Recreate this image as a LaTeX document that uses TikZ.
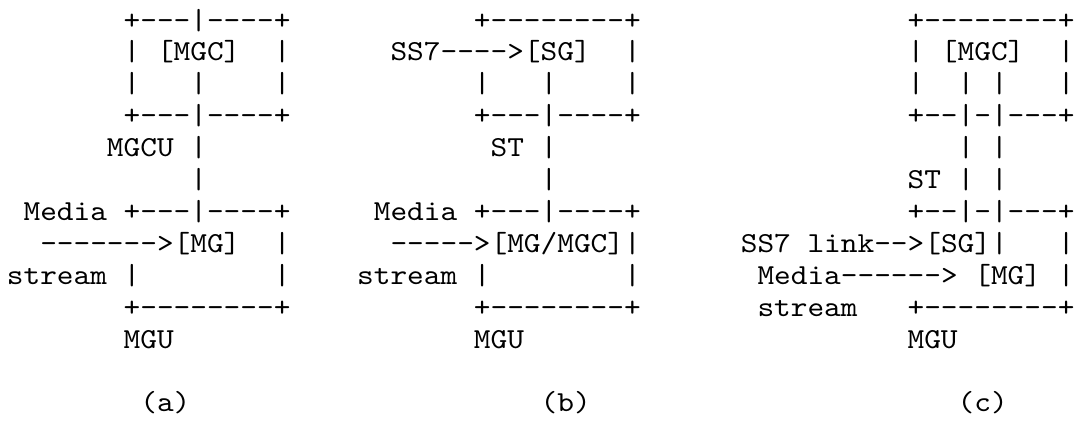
\documentclass[tikz,border=0pt]{standalone}
\usepackage{fontspec}
\setmonofont{lmmono10-regular.otf}[FakeStretch=1.0956]
\begin{document}
\begin{tikzpicture}[x=8.34pt,y=-15.95pt,
  txt/.style={font=\ttfamily\fontsize{14.5}{16}\selectfont,anchor=base west,inner sep=0pt}]
\useasboundingbox (-3.25pt,14.55pt) rectangle (533.75pt,-195.95pt);
% (a)
\node[txt] (atop) at (7,0){+---|----+};
\node[txt] (al1) at (7,1){|};\node[txt] (mgca) at (9,1){[MGC]};\node[txt] (ar1) at (16,1){|};
\node[txt] (al2) at (7,2){|};\node[txt] (am2) at (11,2){|};\node[txt] (ar2) at (16,2){|};
\node[txt] (amid) at (7,3){+---|----+};
\node[txt] (mgcu) at (6,4){MGCU};\node[txt] (am4) at (11,4){|};
\node[txt] (am5) at (11,5){|};
\node[txt] (mediaa) at (1,6){Media};\node[txt] (amgtop) at (7,6){+---|----+};
\node[txt] (mga) at (2,7){------->[MG]};\node[txt] (ar7) at (16,7){|};
\node[txt] (streama) at (0,8){stream};\node[txt] (al8) at (7,8){|};\node[txt] (ar8) at (16,8){|};
\node[txt] (abot) at (7,9){+--------+};
\node[txt] (mgua) at (7,10){MGU};
\node[txt] (capa) at (8,12){(a)};
% (b)
\node[txt] (btop) at (28,0){+--------+};
\node[txt] (sgb) at (23,1){SS7---->[SG]};\node[txt] (br1) at (37,1){|};
\node[txt] (bl2) at (28,2){|};\node[txt] (bm2) at (32,2){|};\node[txt] (br2) at (37,2){|};
\node[txt] (bmid) at (28,3){+---|----+};
\node[txt] (stb) at (29,4){ST};\node[txt] (bm4) at (32,4){|};
\node[txt] (bm5) at (32,5){|};
\node[txt] (mediab) at (22,6){Media};\node[txt] (bmgtop) at (28,6){+---|----+};
\node[txt] (mgb) at (23,7){----->[MG/MGC]|};
\node[txt] (streamb) at (21,8){stream};\node[txt] (bl8) at (28,8){|};\node[txt] (br8) at (37,8){|};
\node[txt] (bbot) at (28,9){+--------+};
\node[txt] (mgub) at (28,10){MGU};
\node[txt] (capb) at (32,12){(b)};
% (c)
\node[txt] (ctop) at (54,0){+--------+};
\node[txt] (cl1) at (54,1){|};\node[txt] (mgcc) at (56,1){[MGC]};\node[txt] (cr1) at (63,1){|};
\node[txt] (cl2) at (54,2){|};\node[txt] (cm2) at (57,2){|};\node[txt] (cn2) at (59,2){|};\node[txt] (cr2) at (63,2){|};
\node[txt] (cmid) at (54,3){+--|-|---+};
\node[txt] (cm4) at (57,4){|};\node[txt] (cn4) at (59,4){|};
\node[txt] (stc) at (54,5){ST};\node[txt] (cm5) at (57,5){|};\node[txt] (cn5) at (59,5){|};
\node[txt] (cmgtop) at (54,6){+--|-|---+};
\node[txt] (ss7c) at (44,7){SS7};\node[txt] (sgc) at (48,7){link-->[SG]|};\node[txt] (cr7) at (63,7){|};
\node[txt] (mediac) at (45,8){Media------>};\node[txt] (mgc) at (58,8){[MG]};\node[txt] (cr8) at (63,8){|};
\node[txt] (streamc) at (45,9){stream};\node[txt] (cbot) at (54,9){+--------+};
\node[txt] (mguc) at (54,10){MGU};
\node[txt] (capc) at (57,12){(c)};
\end{tikzpicture}
\end{document}
